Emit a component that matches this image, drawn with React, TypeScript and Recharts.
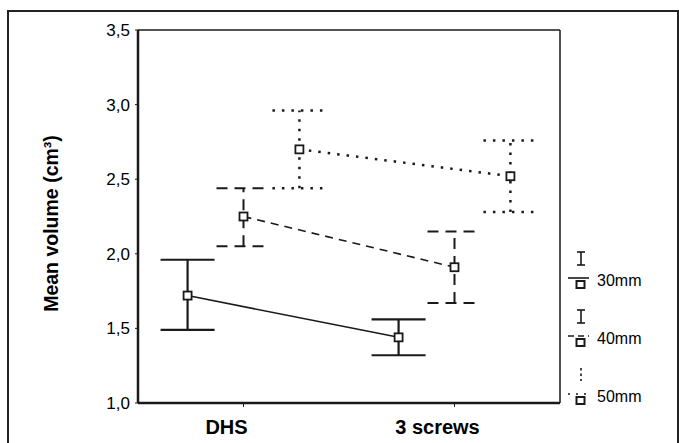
import { ComposedChart, Line, XAxis, YAxis, ErrorBar, Legend, ReferenceLine } from "recharts"

// groups on the x axis
const categories = ["DHS", "3 screws"]

// screw length groups (legend)
const seriesNames = ["30mm", "40mm", "50mm"]

// mean volume (cm3) and error bar ends
const mean30 = [1.72, 1.44]
const low30 = [1.49, 1.32]
const high30 = [1.96, 1.56]

const mean40 = [2.25, 1.91]
const low40 = [2.05, 1.67]
const high40 = [2.44, 2.15]

const mean50 = [2.7, 2.52]
const low50 = [2.44, 2.28]
const high50 = [2.96, 2.76]

const yTicks = [1.0, 1.5, 2.0, 2.5, 3.0, 3.5]

const INK = "#1a1a1a"

const styles = [
  { offset: -0.265, dash: undefined, errDash: undefined, width: 1.5, errWidth: 2.2 },
  { offset: 0, dash: "8 6", errDash: "11 7", width: 1.6, errWidth: 2 },
  { offset: 0.265, dash: "2.5 7", errDash: "2.5 7", width: 2.5, errWidth: 2.5 },
]

const groups = [
  { mean: mean30, low: low30, high: high30 },
  { mean: mean40, low: low40, high: high40 },
  { mean: mean50, low: low50, high: high50 },
]

const series = seriesNames.map((name, s) => ({
  name,
  ...styles[s],
  data: categories.map((c, i) => ({
    x: i + 0.5 + styles[s].offset,
    category: c,
    y: groups[s].mean[i],
    err: [groups[s].mean[i] - groups[s].low[i], groups[s].high[i] - groups[s].mean[i]],
  })),
}))

const fmt = (v: number) => v.toFixed(1).replace(".", ",")

function SquareDot(props: any) {
  const { cx, cy, index } = props
  if (cx == null || cy == null) return null
  return (
    <rect
      key={index}
      x={cx - 4}
      y={cy - 4}
      width={8}
      height={8}
      fill="#fff"
      stroke={INK}
      strokeWidth={1.8}
    />
  )
}

function CategoryTick(props: any) {
  const { x, y, payload } = props
  return (
    <text
      x={x - 17}
      y={y}
      dy={25}
      textAnchor="middle"
      fontSize={20}
      fontWeight="bold"
      fill="#000"
    >
      {categories[Math.floor(payload.value)]}
    </text>
  )
}

function LegendBox() {
  return (
    <svg width={110} height={170}>
      {series.map((s, i) => {
        const ly = 33 + i * 58
        return (
          <g key={s.name}>
            {/* error bar glyph */}
            <line x1={21} y1={ly - 26} x2={21} y2={ly - 13} stroke={INK} strokeWidth={1.6} strokeDasharray={i === 2 ? "2.5 3" : undefined} />
            {i < 2 && (
              <>
                <line x1={17} y1={ly - 26} x2={25} y2={ly - 26} stroke={INK} strokeWidth={1.6} />
                <line x1={17} y1={ly - 13} x2={25} y2={ly - 13} stroke={INK} strokeWidth={1.6} />
              </>
            )}
            {/* line + marker glyph */}
            <line x1={8} y1={ly} x2={29} y2={ly} stroke={INK} strokeWidth={1.6} strokeDasharray={i === 0 ? undefined : i === 1 ? "6 4" : "2 6"} />
            <rect x={16.5} y={ly + 3} width={8} height={7} fill="#fff" stroke={INK} strokeWidth={2} />
            <text x={37} y={ly + 8} fontSize={16} fill="#000">
              {s.name}
            </text>
          </g>
        )
      })}
    </svg>
  )
}

export default function App() {
  return (
    <div
      style={{
        position: "absolute",
        left: 0,
        top: 0,
        width: 679,
        height: 443,
        background: "#fff",
        fontFamily: "'Liberation Sans', Arial, sans-serif",
        overflow: "hidden",
      }}
    >
      <div
        style={{
          position: "absolute",
          left: 7,
          top: 10,
          width: 668,
          height: 440,
          borderTop: "2px solid #222",
          borderLeft: "2px solid #222",
          borderRight: "2px solid #222",
        }}
      />
      <ComposedChart
        width={679}
        height={443}
        margin={{ top: 30, right: 119, bottom: 0, left: 0 }}
      >
        <XAxis
          dataKey="x"
          type="number"
          domain={[0, 2]}
          ticks={[0.5, 1.5]}
          tick={<CategoryTick />}
          tickSize={4}
          tickLine={{ stroke: INK }}
          axisLine={{ stroke: INK, strokeWidth: 2.5 }}
          height={40}
          allowDuplicatedCategory={false}
        />
        <YAxis
          type="number"
          domain={[1, 3.5]}
          ticks={yTicks}
          tickFormatter={fmt}
          tick={{ fill: "#000", fontSize: 17 }}
          tickSize={3}
          tickMargin={5}
          tickLine={{ stroke: INK }}
          axisLine={{ stroke: INK, strokeWidth: 2.5 }}
          width={138}
          label={{
            content: (p: any) => {
              const vb = p.viewBox || { x: 0, y: 30, height: 373 }
              const cx = 51
              const cy = vb.y + vb.height / 2 + 7
              return (
                <text
                  x={cx}
                  y={cy}
                  transform={`rotate(-90 ${cx} ${cy})`}
                  textAnchor="middle"
                  dominantBaseline="central"
                  fontSize={19.5}
                  fontWeight="bold"
                  fill="#000"
                >
                  Mean volume (cm³)
                </text>
              )
            },
          }}
        />
        {/* frame of the plot box (top and right) */}
        <ReferenceLine y={3.5} stroke={INK} strokeWidth={1.5} ifOverflow="extendDomain" />
        <ReferenceLine x={2} stroke={INK} strokeWidth={1.5} ifOverflow="extendDomain" />
        {series.map((s) => (
          <Line
            key={s.name}
            name={s.name}
            data={s.data}
            dataKey="y"
            type="linear"
            stroke={INK}
            strokeWidth={s.width}
            strokeDasharray={s.dash}
            dot={<SquareDot />}
            activeDot={false}
            isAnimationActive={false}
          >
            <ErrorBar
              dataKey="err"
              direction="y"
              width={27}
              stroke={INK}
              strokeWidth={s.errWidth}
              strokeDasharray={s.errDash}
              isAnimationActive={false}
            />
          </Line>
        ))}
        <Legend
          layout="horizontal"
          align="center"
          verticalAlign="middle"
          content={() => <LegendBox />}
          wrapperStyle={{ position: "absolute", left: 560, top: 245, width: 110, height: 170 }}
        />
      </ComposedChart>
    </div>
  )
}
